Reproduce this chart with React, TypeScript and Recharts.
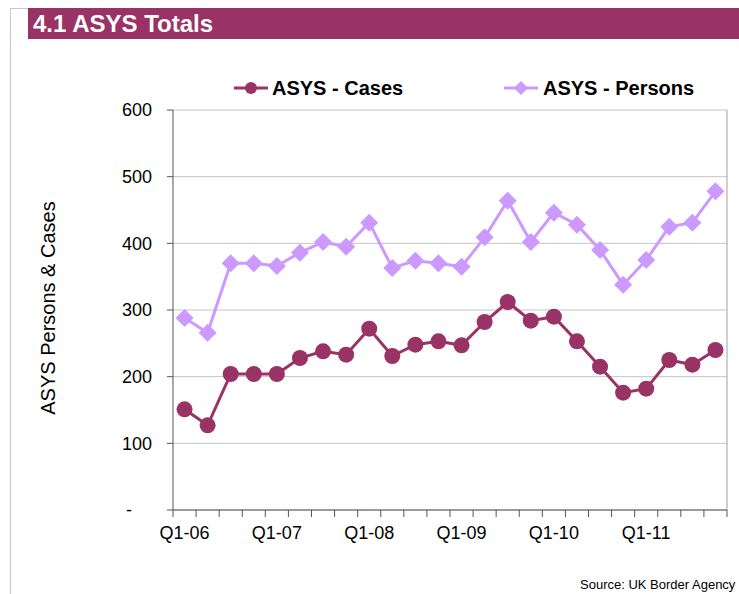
import React from 'react';
import { LineChart, Line, XAxis, YAxis, CartesianGrid, ReferenceLine } from 'recharts';

const quarters = [
  'Q1-06', 'Q2-06', 'Q3-06', 'Q4-06',
  'Q1-07', 'Q2-07', 'Q3-07', 'Q4-07',
  'Q1-08', 'Q2-08', 'Q3-08', 'Q4-08',
  'Q1-09', 'Q2-09', 'Q3-09', 'Q4-09',
  'Q1-10', 'Q2-10', 'Q3-10', 'Q4-10',
  'Q1-11', 'Q2-11', 'Q3-11', 'Q4-11',
];

const cases = [
  151, 127, 204, 204, 204, 228, 238, 233,
  272, 231, 248, 253, 247, 282, 312, 284,
  290, 253, 215, 176, 182, 225, 218, 240,
];

const persons = [
  288, 266, 370, 370, 366, 386, 402, 395,
  431, 363, 374, 370, 365, 409, 464, 402,
  446, 428, 390, 338, 375, 425, 431, 478,
];

const labelTicks = [0.5, 4.5, 8.5, 12.5, 16.5, 20.5];
const yTicks = [0, 100, 200, 300, 400, 500, 600];

const CASES_COLOR = '#993366';
const PERSONS_COLOR = '#CC99FF';
const FONT = "Arial, 'Liberation Sans', sans-serif";

const data = quarters.map((q, i) => ({ x: i + 0.5, q, cases: cases[i], persons: persons[i] }));

function Diamond(props: any) {
  const { cx, cy } = props;
  if (cx == null || cy == null) return null;
  const s = 9;
  return (
    <polygon
      points={`${cx},${cy - s} ${cx + s},${cy} ${cx},${cy + s} ${cx - s},${cy}`}
      fill={PERSONS_COLOR}
    />
  );
}

// boundary tick marks only, no text
function EmptyTick() {
  return <g />;
}

function YTick(props: any) {
  const { x, y, payload } = props;
  const zero = payload.value === 0;
  return (
    <text
      x={zero ? x - 20 : x}
      y={y}
      dy="0.36em"
      textAnchor="end"
      fontSize={18}
      fontFamily={FONT}
      fill="#000"
    >
      {zero ? '-' : payload.value}
    </text>
  );
}

function ChartLegend() {
  const text = { position: 'absolute' as const, top: 0, fontSize: 20, fontWeight: 'bold' as const, fontFamily: FONT, color: '#000', lineHeight: '22px' };
  return (
    <div style={{ position: 'absolute', left: 0, top: 77, width: 739, height: 22 }}>
      <svg style={{ position: 'absolute', left: 234, top: 1 }} width={36} height={20}>
        <line x1={0} y1={10} x2={34} y2={10} stroke={CASES_COLOR} strokeWidth={3} />
        <circle cx={17} cy={10} r={6} fill={CASES_COLOR} />
      </svg>
      <span style={{ ...text, left: 272 }}>ASYS - Cases</span>
      <svg style={{ position: 'absolute', left: 504, top: 1 }} width={36} height={20}>
        <line x1={0} y1={10} x2={34} y2={10} stroke={PERSONS_COLOR} strokeWidth={3} />
        <polygon points="17,3 24,10 17,17 10,10" fill={PERSONS_COLOR} />
      </svg>
      <span style={{ ...text, left: 543 }}>ASYS - Persons</span>
    </div>
  );
}

export default function App() {
  return (
    <div style={{ position: 'absolute', left: 0, top: 0, width: 739, height: 594, overflow: 'hidden', background: '#fff' }}>
      <div style={{ position: 'absolute', left: 10, top: 8, width: 1, height: 586, background: '#c8c8c8' }} />
      <div style={{ position: 'absolute', left: 10, top: 8, width: 729, height: 1, background: '#c8c8c8' }} />
      <div
        style={{
          position: 'absolute', left: 28, top: 8, width: 706, height: 31, background: '#993366',
          color: '#fff', fontFamily: FONT, fontWeight: 'bold', fontSize: 24, lineHeight: '31px', paddingLeft: 5,
        }}
      >
        4.1 ASYS Totals
      </div>
      <div
        style={{
          position: 'absolute', left: 48, top: 308, transform: 'translate(-50%, -50%) rotate(-90deg)',
          whiteSpace: 'nowrap', fontFamily: FONT, fontSize: 20, color: '#000',
        }}
      >
        ASYS Persons &amp; Cases
      </div>
      <ChartLegend />
      <div style={{ position: 'absolute', left: 0, top: 0 }}>
        <LineChart width={739} height={594} data={data} margin={{ top: 110, right: 12, bottom: 44, left: 113 }}>
          <CartesianGrid vertical={false} stroke="#c4c4c4" xAxisId="a" />
          <XAxis
            xAxisId="a"
            dataKey="x"
            type="number"
            domain={[0, 24]}
            ticks={Array.from({ length: 25 }, (_, i) => i)}
            tick={<EmptyTick />}
            tickSize={7}
            height={10}
            axisLine={{ stroke: '#555' }}
            tickLine={{ stroke: '#555' }}
            interval={0}
          />
          <XAxis
            xAxisId="b"
            dataKey="x"
            type="number"
            domain={[0, 24]}
            ticks={labelTicks}
            tickFormatter={(v: number) => quarters[Math.floor(v)]}
            axisLine={false}
            tickLine={false}
            tickSize={0}
            tickMargin={6}
            height={30}
            interval={0}
            tick={{ fontSize: 18, fontFamily: FONT, fill: '#000' }}
          />
          <YAxis
            domain={[0, 600]}
            ticks={yTicks}
            interval={0}
            width={60}
            tickSize={6}
            tickMargin={15}
            axisLine={{ stroke: '#555' }}
            tickLine={{ stroke: '#555' }}
            tick={<YTick />}
          />
          <ReferenceLine xAxisId="a" x={24} stroke="#a0a0a0" />
          <Line
            xAxisId="a"
            dataKey="persons"
            name="ASYS - Persons"
            stroke={PERSONS_COLOR}
            strokeWidth={3}
            dot={<Diamond />}
            activeDot={false}
            isAnimationActive={false}
          />
          <Line
            xAxisId="a"
            dataKey="cases"
            name="ASYS - Cases"
            stroke={CASES_COLOR}
            strokeWidth={3}
            dot={{ r: 8, fill: CASES_COLOR, stroke: CASES_COLOR, strokeWidth: 0 }}
            activeDot={false}
            isAnimationActive={false}
          />
        </LineChart>
      </div>
      <div style={{ position: 'absolute', left: 580, top: 577, fontFamily: FONT, fontSize: 13, color: '#000', whiteSpace: 'nowrap' }}>
        Source: UK Border Agency
      </div>
    </div>
  );
}
